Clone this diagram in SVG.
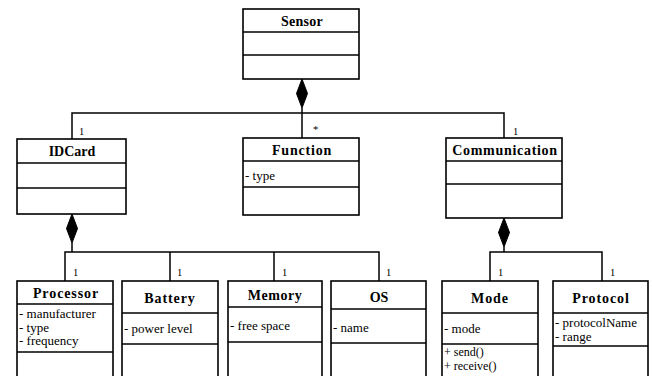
<svg xmlns="http://www.w3.org/2000/svg" width="652" height="376" viewBox="0 0 652 376">
<style>
.box{fill:#fff;stroke:#000;stroke-width:1.6}
.div{stroke:#000;stroke-width:1.3}
text{font-family:'Liberation Serif','Times New Roman',Times,serif;fill:#000}
.title{font-weight:bold;font-size:14px;text-anchor:middle}
.attr{font-size:13px}
.op{font-size:12px}
.mult{font-size:10.5px}
.line{fill:none;stroke:#000;stroke-width:1.5}
.dia{fill:#000;stroke:#000}
</style>
<g id="connectors">
<path class="line" d="M302,108 V138 M72,139 V113 H504 V138"/>
<polygon class="dia" points="302,79 307.5,93.5 302,108 296.5,93.5"/>
<path class="line" d="M72,243 V252 M65,281 V252 H379 V281 M170,252 V281 M274,252 V281"/>
<polygon class="dia" points="72,214 77.5,228.5 72,243 66.5,228.5"/>
<path class="line" d="M504,247 V252 M490,281 V252 H602 V281"/>
<polygon class="dia" points="504,218 509.5,232.5 504,247 498.5,232.5"/>
<text class="mult" x="79" y="135">1</text>
<text class="mult" x="313" y="133">*</text>
<text class="mult" x="513" y="135">1</text>
<text class="mult" x="73" y="276">1</text>
<text class="mult" x="177" y="276">1</text>
<text class="mult" x="282" y="276">1</text>
<text class="mult" x="386" y="276">1</text>
<text class="mult" x="498" y="276">1</text>
<text class="mult" x="610" y="276">1</text>
</g>
<g id="Sensor">
<rect class="box" x="243" y="9" width="116" height="70"/>
<line class="div" x1="243" y1="32" x2="359" y2="32"/>
<line class="div" x1="243" y1="55" x2="359" y2="55"/>
<text class="title" x="302" y="26" style="letter-spacing:0.3px">Sensor</text>
</g>
<g id="IDCard">
<rect class="box" x="17" y="139" width="109" height="75"/>
<line class="div" x1="17" y1="163" x2="126" y2="163"/>
<line class="div" x1="17" y1="188" x2="126" y2="188"/>
<text class="title" x="72" y="156">IDCard</text>
</g>
<g id="Function">
<rect class="box" x="243" y="138" width="116" height="77"/>
<line class="div" x1="243" y1="161" x2="359" y2="161"/>
<line class="div" x1="243" y1="187" x2="359" y2="187"/>
<text class="title" x="302" y="155" style="letter-spacing:0.8px">Function</text>
<text class="attr" x="245" y="180">- type</text>
</g>
<g id="Communication">
<rect class="box" x="446" y="138" width="116" height="80"/>
<line class="div" x1="446" y1="161" x2="562" y2="161"/>
<line class="div" x1="446" y1="184" x2="562" y2="184"/>
<text class="title" x="505" y="155" style="letter-spacing:0.7px">Communication</text>
</g>
<g id="Processor">
<rect class="box" x="17" y="281" width="96" height="100"/>
<line class="div" x1="17" y1="304" x2="113" y2="304"/>
<line class="div" x1="17" y1="352" x2="113" y2="352"/>
<text class="title" x="66" y="298" style="letter-spacing:0.9px">Processor</text>
<text class="attr" x="19" y="318">- manufacturer</text>
<text class="attr" x="19" y="331.5">- type</text>
<text class="attr" x="19" y="345">- frequency</text>
</g>
<g id="Battery">
<rect class="box" x="122" y="281" width="96" height="100"/>
<line class="div" x1="122" y1="313" x2="218" y2="313"/>
<line class="div" x1="122" y1="344" x2="218" y2="344"/>
<text class="title" x="170" y="303" style="letter-spacing:0.9px">Battery</text>
<text class="attr" x="124" y="333">- power level</text>
</g>
<g id="Memory">
<rect class="box" x="228" y="281" width="94" height="100"/>
<line class="div" x1="228" y1="307" x2="322" y2="307"/>
<line class="div" x1="228" y1="342" x2="322" y2="342"/>
<text class="title" x="275" y="300" style="letter-spacing:0.5px">Memory</text>
<text class="attr" x="230" y="330">- free space</text>
</g>
<g id="OS">
<rect class="box" x="331" y="281" width="95" height="100"/>
<line class="div" x1="331" y1="309" x2="426" y2="309"/>
<line class="div" x1="331" y1="343" x2="426" y2="343"/>
<text class="title" x="379" y="302">OS</text>
<text class="attr" x="333" y="332">- name</text>
</g>
<g id="Mode">
<rect class="box" x="442" y="281" width="96" height="100"/>
<line class="div" x1="442" y1="313" x2="538" y2="313"/>
<line class="div" x1="442" y1="344" x2="538" y2="344"/>
<text class="title" x="490" y="303" style="letter-spacing:0.9px">Mode</text>
<text class="attr" x="444" y="333">-  mode</text>
<text class="op" x="444" y="356">+ send()</text>
<text class="op" x="444" y="370">+ receive()</text>
</g>
<g id="Protocol">
<rect class="box" x="553" y="281" width="95" height="100"/>
<line class="div" x1="553" y1="313" x2="648" y2="313"/>
<line class="div" x1="553" y1="346" x2="648" y2="346"/>
<text class="title" x="601" y="303" style="letter-spacing:0.9px">Protocol</text>
<text class="attr" x="555" y="327">- protocolName</text>
<text class="attr" x="555" y="341">- range</text>
</g>
</svg>
